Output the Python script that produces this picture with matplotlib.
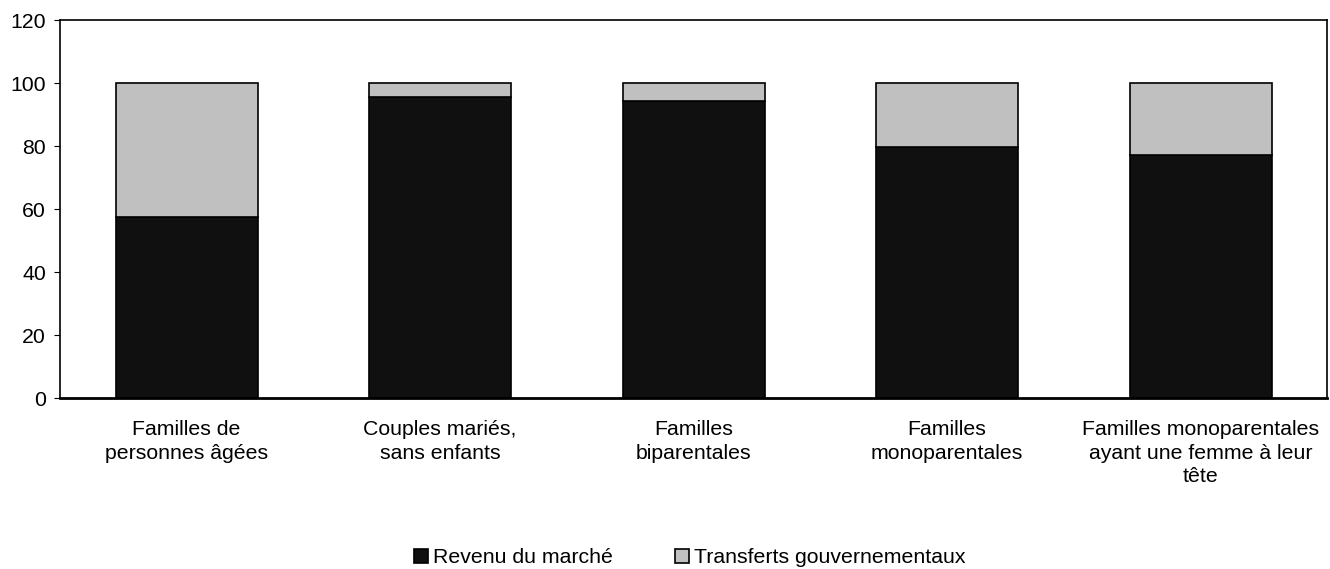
import matplotlib.pyplot as plt
import numpy as np

plt.rcParams['font.family'] = ['Liberation Sans', 'DejaVu Sans']

categories = ['Familles de\npersonnes âgées', 'Couples mariés,\nsans enfants',
              'Familles\nbiparentales', 'Familles\nmonoparentales',
              'Familles monoparentales\nayant une femme à leur\ntête']
revenu_marche = [57.6, 95.7, 94.4, 79.8, 77.3]
transferts = [42.4, 4.3, 5.6, 20.2, 22.7]

fig = plt.figure(figsize=(13.3, 5.69), dpi=100)
ax = fig.add_axes([0.045, 0.3005, 0.953, 0.664])

x = np.arange(len(categories))
ax.bar(x, revenu_marche, width=0.56, color='#101010', edgecolor='black', linewidth=1.2,
       label='Revenu du marché')
ax.bar(x, transferts, width=0.56, bottom=revenu_marche, color='#c0c0c0', edgecolor='black',
       linewidth=1.2, label='Transferts gouvernementaux')

ax.set_xlim(-0.5, len(categories) - 0.5)
ax.set_ylim(0, 120)
ax.set_yticks(range(0, 121, 20))
ax.set_xticks(x)
ax.set_xticklabels(categories, fontsize=15.3, linespacing=1.3)
ax.tick_params(axis='x', length=0, pad=16)
ax.tick_params(axis='y', labelsize=15.3, length=4, direction='out', pad=6)
for s in ['top', 'right', 'left']:
    ax.spines[s].set_linewidth(1.2)
ax.spines['bottom'].set_linewidth(2)

ax.legend(loc='center', bbox_to_anchor=(0.497, -0.423), ncol=2, frameon=False, fontsize=15.3,
          handlelength=0.66, handleheight=0.66, handletextpad=0.25, columnspacing=2.9)

fig.savefig('out.png', dpi=100)
